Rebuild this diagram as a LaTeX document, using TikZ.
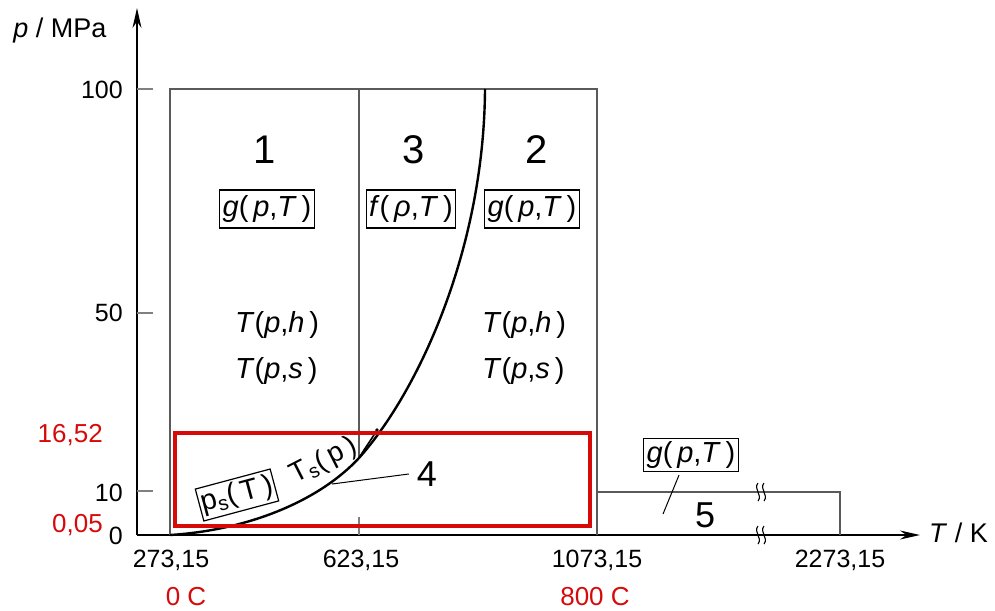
\documentclass[tikz,border=0pt]{standalone}
\usepackage{fontspec}
\setmainfont{Liberation Sans}
\usetikzlibrary{arrows.meta}
\newcommand\myfs[1]{\fontsize{#1}{#1}\selectfont}
\definecolor{myred}{RGB}{215,10,10}
\definecolor{mygray}{RGB}{90,90,90}
\begin{document}
\begin{tikzpicture}[x=1pt,y=-1pt,
  axisline/.style={line width=1.8pt,-{Stealth[length=20pt,width=9pt]}},
  regline/.style={line width=1.4pt,draw=mygray},
  tickline/.style={line width=1.4pt,draw=gray},
  curveline/.style={line width=2.4pt},
  redbox/.style={line width=4.5pt,draw=myred},
  leader/.style={line width=1pt},
  ticklbl/.style={font=\myfs{25},inner sep=0pt},
  redlbl/.style={font=\myfs{26},inner sep=0pt,text=myred},
  boxlbl/.style={draw,line width=1.2pt,font=\myfs{29},inner sep=3pt,minimum height=38pt},
  funlbl/.style={font=\myfs{29},inner sep=0pt,anchor=west},
  bignum/.style={font=\myfs{40},inner sep=0pt},
  midnum/.style={font=\myfs{36},inner sep=0pt}]
\useasboundingbox (0,0) rectangle (995,610);

% axes
\coordinate (O) at (137,535);
\coordinate (Ytip) at (137,8);
\coordinate (Xtip) at (920,535);
\draw[axisline] (O) -- (Ytip);
\draw[axisline] (O) -- (Xtip);

% y ticks
\coordinate (t100a) at (137,89);  \coordinate (t100b) at (153,89);
\coordinate (t50a) at (137,313);  \coordinate (t50b) at (153,313);
\coordinate (t10a) at (137,491);  \coordinate (t10b) at (153,491);
\draw[tickline] (t100a) -- (t100b);
\draw[tickline] (t50a) -- (t50b);
\draw[tickline] (t10a) -- (t10b);
\coordinate (tx623a) at (359,535); \coordinate (tx623b) at (359,517);
\draw[tickline] (tx623a) -- (tx623b);

% labels on axes
\node[ticklbl,anchor=east] (l100) at (123,90) {100};
\node[ticklbl,anchor=east] (l50) at (123,313) {50};
\node[ticklbl,anchor=east] (l10) at (123,493) {10};
\node[ticklbl,anchor=east] (l0) at (123,536) {0};
\node[redlbl,anchor=east] (l1652) at (103,435) {16,52};
\node[redlbl,anchor=east] (l005) at (103,525) {0,05};
\node[font=\myfs{27},inner sep=0pt] (ylab) at (60,31) {\textit{p} / MPa};
\node[font=\myfs{27},inner sep=0pt,anchor=west] (xlab) at (929,533) {\textit{T} / K};

\node[ticklbl,anchor=base] (x273) at (171,567) {273,15};
\node[ticklbl,anchor=base] (x623) at (361,567) {623,15};
\node[ticklbl,anchor=base] (x1073) at (597,567) {1073,15};
\node[ticklbl,anchor=base] (x2273) at (840,567) {2273,15};
\node[redlbl,anchor=base] (c0) at (186,605) {0 C};
\node[redlbl,anchor=base] (c800) at (595,605) {800 C};

% region frame
\coordinate (R1) at (170,535);
\coordinate (R2) at (170,89);
\coordinate (R3) at (597,89);
\coordinate (R4) at (597,535);
\draw[regline] (R1) -- (R2) -- (R3) -- (R4);
\coordinate (V1) at (359,89);
\coordinate (J) at (359,458);
\draw[regline] (V1) -- (J);
% region 5
\coordinate (F1) at (597,492);
\coordinate (F2) at (840,492);
\coordinate (F3) at (840,535);
\draw[regline] (F1) -- (F2) -- (F3);

% break marks
\foreach \bx in {758,764}{
  \foreach \by in {492,535}{
    \draw[line width=1.1pt] (\bx,\by-9) .. controls (\bx-5,\by-3) and (\bx+5,\by+3) .. (\bx,\by+9);
  }
}

% saturation curve and B23
\coordinate (S0) at (170,535);
\coordinate (B1) at (485,89);
\draw[curveline] (S0) .. controls (250,530) and (320,500) .. (J)
  .. controls (418,392) and (484,250) .. (B1);
\coordinate (CP) at (377,430);
\draw[line width=1.6pt] (J) .. controls (365,448) and (371,440) .. (CP);
\fill (CP) circle (1.8pt);

% region numbers and labels
\node[bignum] (n1) at (265,150) {1};
\node[bignum] (n3) at (414,150) {3};
\node[bignum] (n2) at (537,150) {2};

\node[boxlbl] (g1) at (267,209) {\textit{g}(\,\textit{p},\textit{T}\,)};
\node[boxlbl] (f3) at (411,209) {\textit{f}(\,\textit{ρ},\textit{T}\,)};
\node[boxlbl] (g2) at (532,209) {\textit{g}(\,\textit{p},\textit{T}\,)};

\node[funlbl] (th1) at (235,325) {\textit{T}(\textit{p},\textit{h}\,)};
\node[funlbl] (ts1) at (235,371) {\textit{T}(\textit{p},\textit{s}\,)};
\node[funlbl] (th2) at (482,325) {\textit{T}(\textit{p},\textit{h}\,)};
\node[funlbl] (ts2) at (482,371) {\textit{T}(\textit{p},\textit{s}\,)};

\node[boxlbl,rotate=15,minimum height=33pt,inner sep=2pt] (psT) at (237,495) {p\textsubscript{s}(\,T\,)};
\node[font=\myfs{28},inner sep=0pt,rotate=27] (Tsp) at (324,461) {T\textsubscript{s}(\,p\,)};

% region 4
\node[midnum] (n4) at (427,474) {4};
\coordinate (L4) at (332,484);
\draw[leader] (L4) -- ([xshift=-8pt]n4.west);

% region 5
\node[boxlbl,minimum height=33pt] (g5) at (691,455) {\textit{g}(\,\textit{p},\textit{T}\,)};
\coordinate (L5) at (663,514);
\draw[leader] ([xshift=-12pt,yshift=-3pt]g5.south) -- (L5);
\node[midnum] (n5) at (705,515) {5};

% red box
\coordinate (RB1) at (175,433);
\coordinate (RB2) at (590,526);
\draw[redbox] (RB1) rectangle (RB2);
\end{tikzpicture}
\end{document}
